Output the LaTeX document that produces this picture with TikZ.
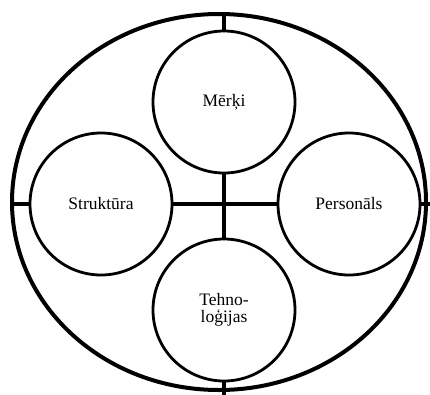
\documentclass[tikz,border=0pt]{standalone}
\usepackage{fontspec}
\setmainfont{Liberation Serif}
\usetikzlibrary{shapes.geometric}
\begin{document}
\begin{tikzpicture}[x=1pt,y=-1pt,
  part/.style={circle,draw,line width=2.8pt,minimum size=142pt,inner sep=0pt,
    font=\fontsize{17.5}{16.5}\selectfont,align=center},
  outer/.style={ellipse,draw,line width=4pt,minimum width=414pt,minimum height=376pt,inner sep=0pt,outer sep=0pt},
  link/.style={line width=3.4pt}]
\useasboundingbox (0,0) rectangle (430,394);
\node[outer] (E) at (219,202) {};
\node[part] (m) at (224,102) {Mērķi};
\node[part] (s) at (101,204) {Struktūra};
\node[part] (p) at (349,204) {Personāls};
\node[part] (t) at (224,310) {Tehno-\\loģijas};
\coordinate (et) at (224,16);
\coordinate (eb) at (224,396);
\coordinate (el) at (E.west |- s.west);
\coordinate (er) at (432,204);
\draw[link] (m.south) -- (t.north);
\draw[link] (s.east) -- (p.west);
\draw[link] (m.north) -- (et);
\draw[link] (t.south) -- (eb);
\draw[link] (s.west) -- (el);
\draw[link] (p.east) -- (er);
\end{tikzpicture}
\end{document}
